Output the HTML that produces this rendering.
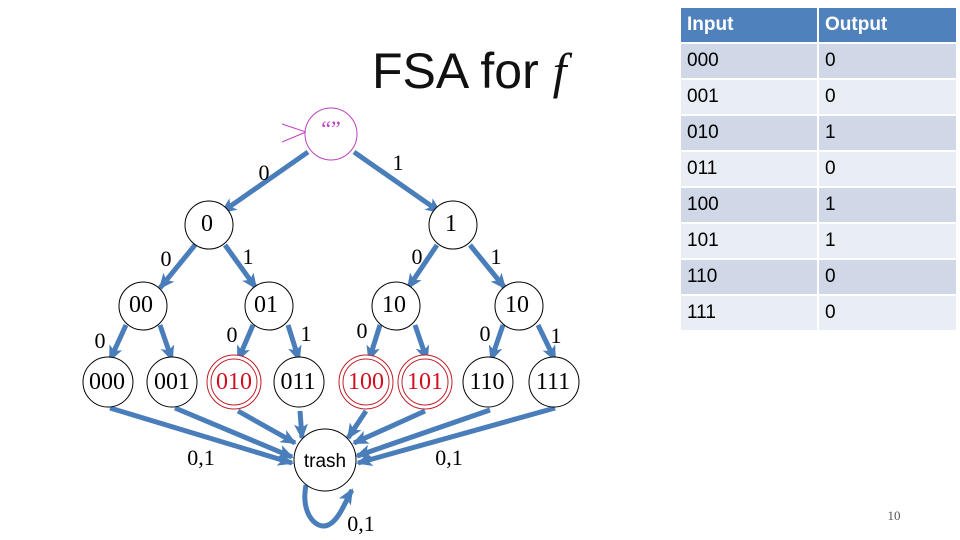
<!DOCTYPE html>
<html><head><meta charset="utf-8"><style>
body{margin:0;background:#fff;}
#w{position:relative;width:960px;height:540px;overflow:hidden;font-family:"Liberation Sans",sans-serif;}
table{position:absolute;left:679px;top:6px;border-collapse:separate;border-spacing:2px;}
td{height:34px;padding:0 0 0 6px;font-size:19px;color:#000;vertical-align:middle;}
td.a{width:130px}td.b{width:131px}
tr.h td{background:#4f81bd;color:#fff;font-weight:bold;}
tr.d td{background:#d0d8e8}tr.l td{background:#e9edf4}
</style></head><body><div id="w">
<svg width="960" height="540" style="position:absolute;left:0;top:0">
<defs><marker id="ar" markerUnits="userSpaceOnUse" markerWidth="16" markerHeight="14" refX="14" refY="7" orient="auto"><path d="M0,0 L16,7 L0,14 L4,7 Z" fill="#4a7ebb"/></marker></defs>
<text x="372" y="88" font-family="Liberation Sans" font-size="50" fill="#111">FSA for <tspan font-family="Liberation Serif" font-style="italic">f</tspan></text>
<g stroke="#4a7ebb" stroke-width="5" fill="none" marker-end="url(#ar)">
<line x1="308" y1="152" x2="222" y2="212"/>
<line x1="354" y1="152" x2="440" y2="212"/>
<line x1="195" y1="245" x2="160" y2="288"/>
<line x1="225" y1="245" x2="256" y2="288"/>
<line x1="437" y1="245" x2="408" y2="288"/>
<line x1="470" y1="245" x2="505" y2="288"/>
<line x1="126" y1="325" x2="110" y2="360"/>
<line x1="160" y1="325" x2="172" y2="360"/>
<line x1="253" y1="325" x2="238" y2="360"/>
<line x1="288" y1="325" x2="299" y2="360"/>
<line x1="380" y1="325" x2="369" y2="360"/>
<line x1="415" y1="325" x2="427" y2="360"/>
<line x1="503" y1="325" x2="491" y2="360"/>
<line x1="538" y1="325" x2="555" y2="360"/>
<line x1="110" y1="408" x2="292" y2="463"/>
<line x1="175" y1="408" x2="292" y2="457"/>
<line x1="238" y1="411" x2="295" y2="443"/>
<line x1="300" y1="411" x2="302" y2="438"/>
<line x1="366" y1="411" x2="348" y2="438"/>
<line x1="425" y1="411" x2="354" y2="443"/>
<line x1="490" y1="410" x2="357" y2="456"/>
<line x1="555" y1="408" x2="358" y2="463"/>
<path d="M306,485 C300,515 318,532 330,524 C340,518 346,500 352,490"/>
</g>
<polyline points="282,124 306,132 282,142" stroke="#c040c0" fill="none" stroke-width="1"/>
<circle cx="331" cy="134" r="26" fill="#fff" stroke="#c040c0" stroke-width="1"/>
<text x="331" y="136" font-family="Liberation Serif" font-size="22" fill="#c040c0" text-anchor="middle">“”</text>
<g fill="#fff" stroke="#000" stroke-width="1">
<circle cx="209" cy="225" r="24"/><circle cx="453" cy="225" r="24"/>
<circle cx="143" cy="306" r="24"/><circle cx="269" cy="306" r="24"/><circle cx="396" cy="306" r="24"/><circle cx="519" cy="306" r="24"/>
<circle cx="108" cy="382" r="25"/><circle cx="172" cy="382" r="25"/><circle cx="299" cy="382" r="25"/><circle cx="488" cy="382" r="25"/><circle cx="554" cy="382" r="25"/>
<circle cx="325" cy="460" r="31"/>
</g>
<g fill="#fff" stroke="#c0202a" stroke-width="1">
<circle cx="234" cy="382" r="27"/><circle cx="234" cy="382" r="23"/>
<circle cx="366" cy="382" r="27"/><circle cx="366" cy="382" r="23"/>
<circle cx="425" cy="382" r="27"/><circle cx="425" cy="382" r="23"/>
</g>
<g font-family="Liberation Serif" font-size="24" text-anchor="middle" fill="#000">
<text x="207" y="231">0</text><text x="451" y="231">1</text>
<text x="141" y="312">00</text><text x="266" y="312">01</text><text x="394" y="312">10</text><text x="517" y="312">10</text>
<text x="107" y="389">000</text><text x="172" y="389">001</text><text x="298" y="389">011</text><text x="487" y="389">110</text><text x="553" y="389">111</text>
<g fill="#d01020"><text x="234" y="389">010</text><text x="366" y="389">100</text><text x="425" y="389">101</text></g>
</g>
<g font-family="Liberation Serif" font-size="22" text-anchor="middle" fill="#000">
<text x="264" y="180">0</text><text x="398" y="170">1</text>
<text x="166" y="266">0</text><text x="248" y="264">1</text><text x="417" y="264">0</text><text x="496" y="264">1</text>
<text x="100" y="348">0</text><text x="232" y="342">0</text><text x="306" y="341">1</text><text x="362" y="338">0</text><text x="485" y="341">0</text><text x="556" y="343">1</text>
<text x="201" y="465">0,1</text><text x="449" y="465">0,1</text><text x="361" y="531">0,1</text>
<text x="894" y="520" font-size="13" fill="#555">10</text>
</g>
<text x="325" y="467" font-family="Liberation Sans" font-size="19" text-anchor="middle">trash</text>
</svg>
<table>
<tr class="h"><td class="a">Input</td><td class="b">Output</td></tr>
<tr class="d"><td>000</td><td>0</td></tr>
<tr class="l"><td>001</td><td>0</td></tr>
<tr class="d"><td>010</td><td>1</td></tr>
<tr class="l"><td>011</td><td>0</td></tr>
<tr class="d"><td>100</td><td>1</td></tr>
<tr class="l"><td>101</td><td>1</td></tr>
<tr class="d"><td>110</td><td>0</td></tr>
<tr class="l"><td>111</td><td>0</td></tr>
</table>
</div></body></html>
